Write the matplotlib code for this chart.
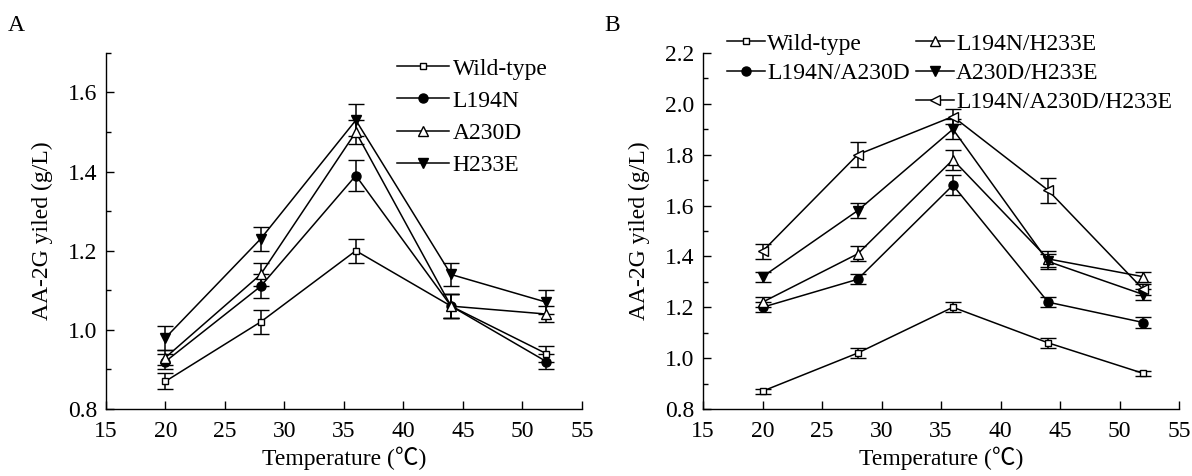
import numpy as np
import matplotlib
matplotlib.use('Agg')
import matplotlib.pyplot as plt
from matplotlib.lines import Line2D

plt.rcParams['font.family'] = ['Liberation Serif', 'Noto Sans CJK SC']

temps = [20, 28, 36, 44, 52]

# panel A: single mutants
a_names = ['Wild-type', 'L194N', 'A230D', 'H233E']
a_wt = [0.87, 1.02, 1.20, 1.06, 0.94]
a_wt_err = [0.02, 0.03, 0.03, 0.03, 0.02]
a_l194n = [0.92, 1.11, 1.39, 1.06, 0.92]
a_l194n_err = [0.02, 0.03, 0.04, 0.03, 0.02]
a_a230d = [0.93, 1.14, 1.50, 1.06, 1.04]
a_a230d_err = [0.02, 0.03, 0.03, 0.03, 0.02]
a_h233e = [0.98, 1.23, 1.53, 1.14, 1.07]
a_h233e_err = [0.03, 0.03, 0.04, 0.03, 0.03]

# panel B: combined mutants
b_names = ['Wild-type', 'L194N/A230D', 'L194N/H233E', 'A230D/H233E', 'L194N/A230D/H233E']
b_wt = [0.87, 1.02, 1.20, 1.06, 0.94]
b_wt_err = [0.01, 0.02, 0.02, 0.02, 0.01]
b_la = [1.20, 1.31, 1.68, 1.22, 1.14]
b_la_err = [0.02, 0.02, 0.04, 0.02, 0.02]
b_lh = [1.22, 1.41, 1.78, 1.39, 1.32]
b_lh_err = [0.02, 0.03, 0.04, 0.03, 0.02]
b_ah = [1.32, 1.58, 1.90, 1.38, 1.25]
b_ah_err = [0.02, 0.03, 0.04, 0.03, 0.02]
b_lah = [1.42, 1.80, 1.95, 1.66, 1.27]
b_lah_err = [0.03, 0.05, 0.03, 0.05, 0.02]

# marker styles: (marker, filled, size)
styles = {
    'Wild-type': ('s', False, 4.8),
    'L194N': ('o', True, 6.5),
    'A230D': ('^', False, 7.5),
    'H233E': ('v', True, 7.5),
    'L194N/A230D': ('o', True, 6.5),
    'L194N/H233E': ('^', False, 7.5),
    'A230D/H233E': ('v', True, 7.5),
    'L194N/A230D/H233E': ('<', False, 7.5),
}

FS = 17
xlabel = 'Temperature (\u2103)'
ylabel = 'AA-2G yiled (g/L)'


def draw(ax, name, y, err):
    m, filled, ms = styles[name]
    ax.errorbar(temps, y, yerr=err, color='black', lw=1.1, elinewidth=1.1,
                capsize=6, capthick=1.1, marker=m, ms=ms,
                mfc='black' if filled else 'white', mec='black', mew=1.0)
    # legend handle without the error bar
    return Line2D([], [], color='black', lw=1.1, marker=m, ms=ms,
                  mfc='black' if filled else 'white', mec='black', mew=1.0)


def style_axes(ax, ylim, yticks):
    ax.set_xlim(15, 55)
    ax.set_ylim(*ylim)
    ax.set_xticks(np.arange(15, 56, 5))
    ax.set_yticks(yticks)
    ax.set_yticks(np.arange(ylim[0], ylim[1] + 0.001, 0.1), minor=True)
    ax.set_yticklabels(['%.1f' % v for v in yticks])
    ax.spines['top'].set_visible(False)
    ax.spines['right'].set_visible(False)
    for s in ['left', 'bottom']:
        ax.spines[s].set_linewidth(1.0)
    ax.tick_params(direction='in', length=6, width=1.0, labelsize=FS, pad=6)
    ax.tick_params(axis='x', pad=9)
    ax.tick_params(which='minor', direction='in', length=3.5, width=1.0)
    ax.set_xlabel(xlabel, fontsize=FS, labelpad=3)
    ax.set_ylabel(ylabel, fontsize=FS, labelpad=11)


fig = plt.figure(figsize=(11.92, 4.76), dpi=100)
ax1 = fig.add_axes([0.0889, 0.1408, 0.3993, 0.748])
ax2 = fig.add_axes([0.5898, 0.1408, 0.3993, 0.748])

# panel A
handles = []
for name, y, e in zip(a_names, [a_wt, a_l194n, a_a230d, a_h233e],
                      [a_wt_err, a_l194n_err, a_a230d_err, a_h233e_err]):
    handles.append(draw(ax1, name, y, e))
style_axes(ax1, (0.8, 1.7), [0.8, 1.0, 1.2, 1.4, 1.6])

ax1.legend(handles, a_names, loc='upper left',
           bbox_to_anchor=(397 / 1192, 1 - 58 / 476),
           bbox_transform=fig.transFigure, frameon=False, fontsize=FS,
           handlelength=2.2, handletextpad=0.15, labelspacing=0.45,
           borderpad=0, borderaxespad=0)

# panel B
handles = []
for name, y, e in zip(b_names, [b_wt, b_la, b_lh, b_ah, b_lah],
                      [b_wt_err, b_la_err, b_lh_err, b_ah_err, b_lah_err]):
    handles.append(draw(ax2, name, y, e))
style_axes(ax2, (0.8, 2.2), [0.8, 1.0, 1.2, 1.4, 1.6, 1.8, 2.0, 2.2])

blank = Line2D([], [], color='none')
order_h = [handles[0], handles[1], blank, handles[2], handles[3], handles[4]]
order_l = [b_names[0], b_names[1], '', b_names[2], b_names[3], b_names[4]]
ax2.legend(order_h, order_l, ncol=2, loc='upper left',
           bbox_to_anchor=(727 / 1192, 1 - 33 / 476),
           bbox_transform=fig.transFigure, frameon=False, fontsize=FS,
           handlelength=1.6, handletextpad=0.1, labelspacing=0.33,
           columnspacing=0.25, borderpad=0, borderaxespad=0)

fig.text(8 / 1192, 1 - 31 / 476, 'A', fontsize=FS)
fig.text(604 / 1192, 1 - 31 / 476, 'B', fontsize=FS)

fig.savefig('out.png', dpi=100)
